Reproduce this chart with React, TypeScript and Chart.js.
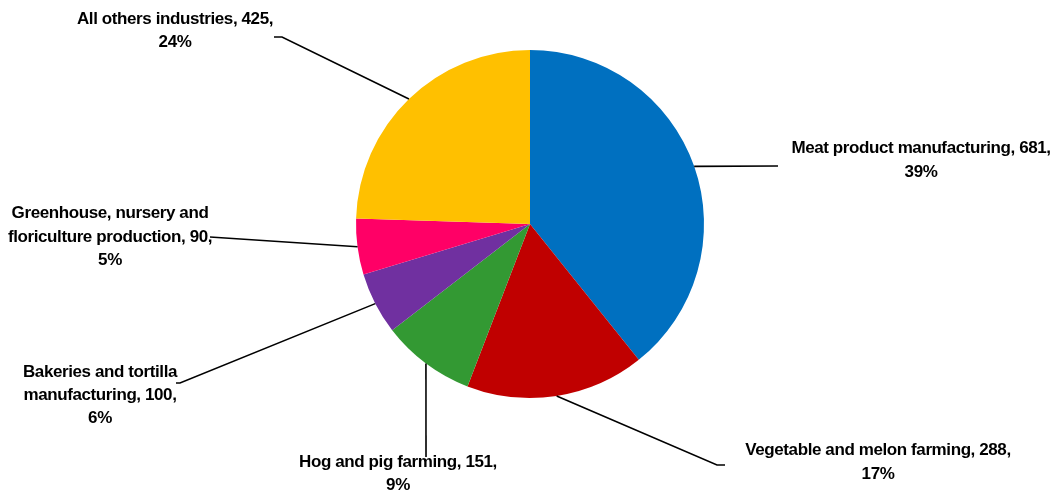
import React, { useEffect, useRef } from "react";
import { Chart, registerables } from "chart.js";

Chart.register(...registerables);

const categories = [
  "Meat product manufacturing",
  "Vegetable and melon farming",
  "Hog and pig farming",
  "Bakeries and tortilla manufacturing",
  "Greenhouse, nursery and floriculture production",
  "All others industries",
];
const values = [681, 288, 151, 100, 90, 425];
const colors = ["#0070C0", "#C00000", "#339933", "#7030A0", "#FF0066", "#FFC000"];

// label layout: text centre x, centre y of each line, words per line, leader line points
const labelLayout = [
  { cx: 921, ys: [148, 172], words: [4, 1], path: [[778, 166]] },
  { cx: 878, ys: [450, 474], words: [5, 1], path: [[717, 465], [725, 465]] },
  { cx: 398, ys: [462, 485], words: [5, 1], path: [[426, 457]] },
  { cx: 100, ys: [372, 395, 418], words: [3, 2, 1], path: [[180, 383], [176, 383]] },
  { cx: 110, ys: [213, 237, 260], words: [3, 3, 1], path: [[210, 237]] },
  { cx: 175, ys: [19, 42], words: [4, 1], path: [[282, 37], [274, 37]] },
];

const labelPlugin = {
  id: "excelLabels",
  afterDraw(chart: any) {
    const ctx = chart.ctx;
    const meta = chart.getDatasetMeta(0);
    const total = values.reduce((a, b) => a + b, 0);
    ctx.save();
    meta.data.forEach((arc: any, i: number) => {
      const lay = labelLayout[i];
      const p = arc.getProps(["x", "y", "startAngle", "endAngle", "outerRadius"], true);
      const mid = (p.startAngle + p.endAngle) / 2;
      const ex = p.x + Math.cos(mid) * p.outerRadius;
      const ey = p.y + Math.sin(mid) * p.outerRadius;
      ctx.beginPath();
      ctx.strokeStyle = "#000";
      ctx.lineWidth = 1.6;
      ctx.moveTo(ex, ey);
      lay.path.forEach((pt) => ctx.lineTo(pt[0], pt[1]));
      ctx.stroke();

      const pct = Math.round((values[i] / total) * 100);
      const full = `${categories[i]}, ${values[i]}, ${pct}%`;
      const tokens = full.split(" ");
      let k = 0;
      ctx.fillStyle = "#000";
      ctx.font = "bold 17px 'Liberation Sans', Arial, sans-serif";
      ctx.textAlign = "center";
      ctx.textBaseline = "middle";
      (ctx as any).letterSpacing = "-0.4px";
      lay.words.forEach((n, li) => {
        const line = tokens.slice(k, k + n).join(" ");
        k += n;
        ctx.fillText(line, lay.cx, lay.ys[li]);
      });
    });
    ctx.restore();
  },
};

export default function App() {
  const ref = useRef<HTMLCanvasElement>(null);
  useEffect(() => {
    if (!ref.current) return;
    const chart = new Chart(ref.current, {
      type: "pie",
      data: {
        labels: categories,
        datasets: [
          {
            data: values,
            backgroundColor: colors,
            borderWidth: 0,
          },
        ],
      },
      options: {
        animation: false,
        responsive: false,
        layout: { padding: { left: 355, right: 352, top: 50, bottom: 93 } },
        plugins: {
          legend: { display: false },
          tooltip: { enabled: false },
        },
      },
      plugins: [labelPlugin],
    });
    return () => chart.destroy();
  }, []);
  return (
    <div style={{ position: "fixed", left: 0, top: 0, width: 1057, height: 491, background: "#fff" }}>
      <canvas ref={ref} width={1057} height={491} />
    </div>
  );
}
